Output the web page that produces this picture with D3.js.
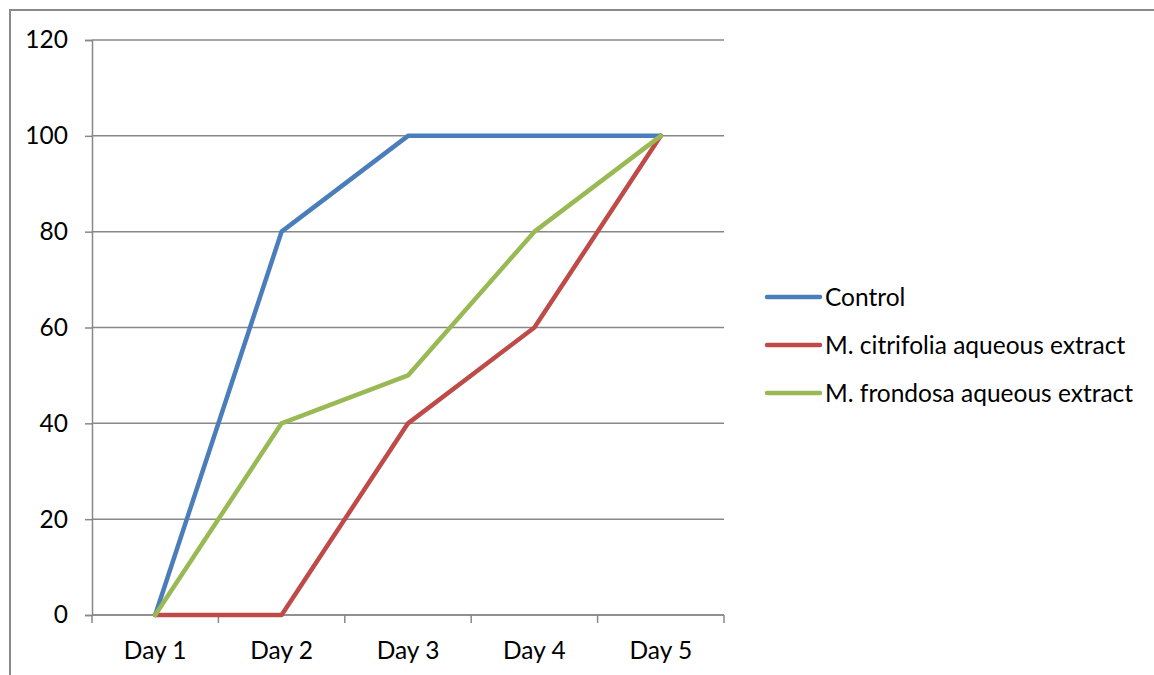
<!DOCTYPE html>
<html>
<head>
<meta charset="utf-8">
<script src="https://cdn.jsdelivr.net/npm/d3@7"></script>
<style>
  html, body { margin: 0; padding: 0; background: #fff; }
  svg { display: block; }
  text { font-family: Lato, "Open Sans", sans-serif; fill: #000; }
</style>
</head>
<body>
<svg id="chart" width="1154" height="675"></svg>
<script>
// Categories and series
const days = ["Day 1", "Day 2", "Day 3", "Day 4", "Day 5"];
const seriesNames = ["Control", "M. citrifolia aqueous extract", "M. frondosa aqueous extract"];
const controlValues = [0, 80, 100, 100, 100];
const citrifoliaValues = [0, 0, 40, 60, 100];
const frondosaValues = [0, 40, 50, 80, 100];
const yTicks = [0, 20, 40, 60, 80, 100, 120];
const seriesColors = ["#4a7ebb", "#be4b48", "#98b954"];

const series = [controlValues, citrifoliaValues, frondosaValues].map((values, i) => ({
  name: seriesNames[i],
  color: seriesColors[i],
  values
}));

const svg = d3.select("#chart");
const axisColor = "#888888";
const fontSize = 24.5;

// Outer frame
svg.append("rect")
  .attr("x", 10).attr("y", 10)
  .attr("width", 1160).attr("height", 700)
  .attr("fill", "none")
  .attr("stroke", "#8a8a8a")
  .attr("stroke-width", 2);

const plot = { left: 92, right: 724, top: 40, bottom: 615 };

const x = d3.scaleBand().domain(days).range([plot.left, plot.right]);
const y = d3.scaleLinear().domain([0, 120]).range([plot.bottom, plot.top]);

// Horizontal gridlines
svg.append("g")
  .selectAll("line")
  .data(yTicks)
  .join("line")
  .attr("x1", plot.left).attr("x2", plot.right)
  .attr("y1", d => y(d)).attr("y2", d => y(d))
  .attr("stroke", axisColor)
  .attr("stroke-width", 1.5);

// Y axis
const yAxis = svg.append("g")
  .attr("transform", `translate(${plot.left},0)`)
  .call(d3.axisLeft(y).tickValues(yTicks).tickSize(7).tickPadding(17));
yAxis.select(".domain").attr("stroke", axisColor).attr("stroke-width", 1.5);
yAxis.selectAll(".tick line").attr("stroke", axisColor).attr("stroke-width", 1.5);
yAxis.selectAll(".tick text")
  .attr("font-size", fontSize)
  .style("font-family", "Lato, 'Open Sans', sans-serif")
  .attr("fill", "#000");

// X axis: ticks sit on the band boundaries
const xAxisG = svg.append("g").attr("transform", `translate(0,${plot.bottom})`);
xAxisG.append("line")
  .attr("x1", plot.left).attr("x2", plot.right)
  .attr("y1", 0).attr("y2", 0)
  .attr("stroke", axisColor).attr("stroke-width", 1.5);
const boundaries = days.map(d => x(d)).concat([x(days[days.length - 1]) + x.bandwidth()]);
xAxisG.selectAll("line.tick")
  .data(boundaries)
  .join("line")
  .attr("class", "tick")
  .attr("x1", d => d).attr("x2", d => d)
  .attr("y1", 0).attr("y2", 8)
  .attr("stroke", axisColor).attr("stroke-width", 1.5);
xAxisG.selectAll("text")
  .data(days)
  .join("text")
  .attr("x", d => x(d) + x.bandwidth() / 2)
  .attr("y", 44)
  .attr("text-anchor", "middle")
  .attr("font-size", fontSize)
  .text(d => d);

// Series lines
const line = d3.line()
  .x((d, i) => x(days[i]) + x.bandwidth() / 2)
  .y(d => y(d));

svg.append("g")
  .selectAll("path")
  .data(series)
  .join("path")
  .attr("d", d => line(d.values))
  .attr("fill", "none")
  .attr("stroke", d => d.color)
  .attr("stroke-width", 4.5)
  .attr("stroke-linejoin", "round")
  .attr("stroke-linecap", "round");

// Legend
const legend = svg.append("g").attr("transform", "translate(767,297)");
const legendItems = legend.selectAll("g")
  .data(series)
  .join("g")
  .attr("transform", (d, i) => `translate(0,${i * 48})`);
legendItems.append("line")
  .attr("x1", 0).attr("x2", 53)
  .attr("y1", 0).attr("y2", 0)
  .attr("stroke", d => d.color)
  .attr("stroke-width", 4.5)
  .attr("stroke-linecap", "round");
legendItems.append("text")
  .attr("x", 58)
  .attr("y", 0)
  .attr("dy", "0.35em")
  .attr("font-size", fontSize)
  .text(d => d.name);
</script>
</body>
</html>
